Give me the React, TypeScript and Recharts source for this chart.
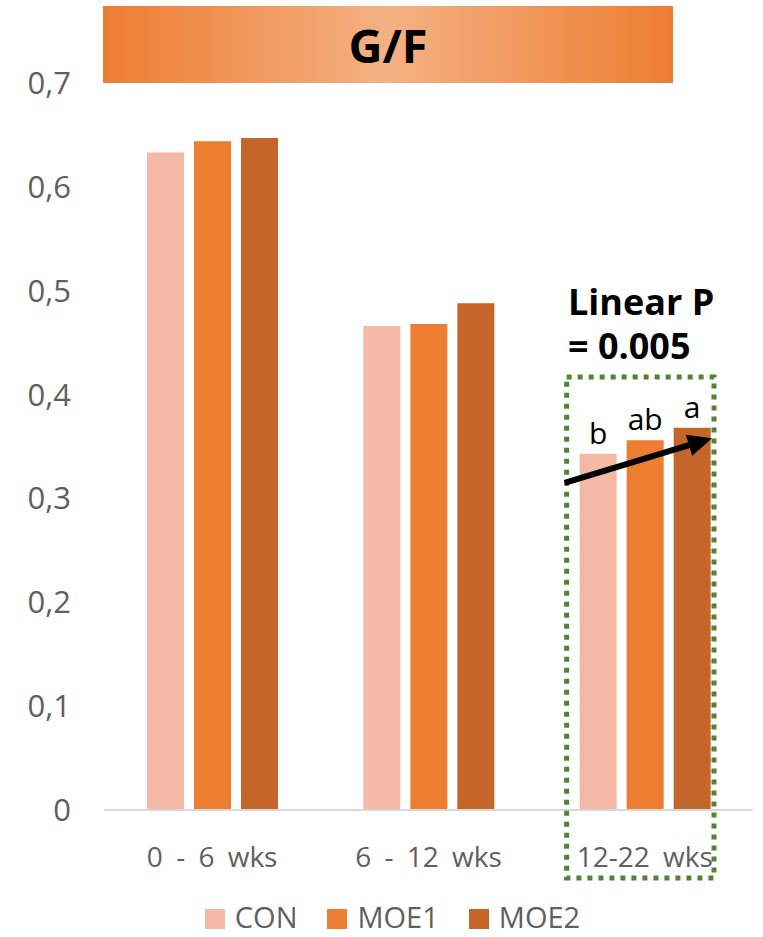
import React from 'react';
import { BarChart, Bar, XAxis, YAxis, LabelList } from 'recharts';

// Periods on the x axis
const periods = ['0 - 6 wks', '6 - 12 wks', '12-22 wks'];

// Gain-to-feed ratio per treatment
const conValues = [0.633, 0.466, 0.343];
const moe1Values = [0.644, 0.468, 0.356];
const moe2Values = [0.647, 0.488, 0.368];

// Significance letters (only the last period differs)
const conLetters = ['', '', 'b'];
const moe1Letters = ['', '', 'ab'];
const moe2Letters = ['', '', 'a'];

const yTicks = [0, 0.1, 0.2, 0.3, 0.4, 0.5, 0.6, 0.7];

const series = [
  { key: 'CON', label: 'CON', color: '#F4B9A4', letters: 'conSig' },
  { key: 'MOE1', label: 'MOE1', color: '#ED7D31', letters: 'moe1Sig' },
  { key: 'MOE2', label: 'MOE2', color: '#C4652A', letters: 'moe2Sig' },
];

const data = periods.map((p, i) => ({
  period: p,
  CON: conValues[i],
  MOE1: moe1Values[i],
  MOE2: moe2Values[i],
  conSig: conLetters[i],
  moe1Sig: moe1Letters[i],
  moe2Sig: moe2Letters[i],
}));

// Chart geometry
const W = 763;
const H = 937;
const PLOT_LEFT = 104;
const PLOT_RIGHT = 753;
const PLOT_TOP = 83;
const PLOT_BOTTOM = 810;
const Y_MAX = 0.7;
const X_AXIS_H = 60;

const FONT = '"Open Sans", "Noto Sans", sans-serif';
const GREY = '#5f5f5f';

const yPix = (v: number) => PLOT_BOTTOM - (v / Y_MAX) * (PLOT_BOTTOM - PLOT_TOP);

export default function App() {
  const band = (PLOT_RIGHT - PLOT_LEFT) / periods.length;
  const lastBandStart = PLOT_LEFT + band * 2;
  const boxX1 = lastBandStart + 30;
  const boxX2 = lastBandStart + band - 39;
  const boxTop = yPix(0.417);
  const boxBottom = 878;

  const arrowStart = { x: boxX1 - 2, y: yPix(0.315) };
  const arrowTip = { x: boxX2 - 2, y: yPix(0.358) };
  const ang = Math.atan2(arrowTip.y - arrowStart.y, arrowTip.x - arrowStart.x);
  const headLen = 24;
  const headHalf = 11;
  const baseX = arrowTip.x - headLen * Math.cos(ang);
  const baseY = arrowTip.y - headLen * Math.sin(ang);
  const px = -Math.sin(ang);
  const py = Math.cos(ang);
  const head = `${arrowTip.x},${arrowTip.y} ${baseX + px * headHalf},${baseY + py * headHalf} ${baseX - px * headHalf},${baseY - py * headHalf}`;

  return (
    <div style={{ position: 'absolute', left: 0, top: 0, width: W, height: H, background: '#fff', fontFamily: FONT, overflow: 'hidden' }}>
      <BarChart
        width={W}
        height={H}
        data={data}
        margin={{ top: PLOT_TOP, right: W - PLOT_RIGHT, left: 0, bottom: H - PLOT_BOTTOM - X_AXIS_H }}
        barSize={37}
        barGap={10}
      >
        <XAxis
          dataKey="period"
          height={X_AXIS_H}
          tickLine={false}
          tickSize={0}
          tickMargin={37}
          axisLine={{ stroke: '#D9D9D9', strokeWidth: 2 }}
          tick={{ fill: GREY, fontSize: 28, fontFamily: FONT, wordSpacing: 6 }}
        />
        <YAxis
          width={PLOT_LEFT}
          domain={[0, Y_MAX]}
          ticks={yTicks}
          interval={0}
          tickLine={false}
          axisLine={false}
          tickSize={0}
          tickMargin={33}
          tickFormatter={(v: number) => String(Number(v.toFixed(1))).replace('.', ',')}
          tick={{ fill: GREY, fontSize: 31, fontFamily: FONT }}
        />
        {series.map((s) => (
          <Bar key={s.key} dataKey={s.key} fill={s.color} isAnimationActive={false}>
            <LabelList
              dataKey={s.letters}
              position="top"
              offset={10}
              fill="#000"
              fontSize={30}
              fontFamily={FONT}
            />
          </Bar>
        ))}
      </BarChart>

      <svg width={W} height={H} style={{ position: 'absolute', left: 0, top: 0, pointerEvents: 'none' }}>
        <defs>
          <linearGradient id="banner" x1="0" x2="1" y1="0" y2="0">
            <stop offset="0" stopColor="#ED7D31" />
            <stop offset="0.5" stopColor="#F4B183" />
            <stop offset="1" stopColor="#ED7D31" />
          </linearGradient>
        </defs>
        <rect x={103} y={6} width={570} height={77} fill="url(#banner)" />
        <text x={388} y={63} textAnchor="middle" fontSize={47} fontWeight={700} fill="#000" fontFamily={FONT}>
          G/F
        </text>

        <text x={568} y={315} fontSize={36} fontWeight={700} fill="#000" fontFamily={FONT}>
          <tspan x={568} y={315}>Linear P</tspan>
          <tspan x={568} y={359}>= 0.005</tspan>
        </text>

        <rect
          x={boxX1}
          y={boxTop}
          width={boxX2 - boxX1}
          height={boxBottom - boxTop}
          fill="none"
          stroke="#548235"
          strokeWidth={5}
          strokeDasharray="5 6"
        />

        <line x1={arrowStart.x} y1={arrowStart.y} x2={baseX} y2={baseY} stroke="#000" strokeWidth={6} />
        <polygon points={head} fill="#000" />
      </svg>

      <div
        style={{
          position: 'absolute',
          left: 0,
          top: 902,
          width: W,
          height: 30,
          lineHeight: '30px',
          paddingLeft: 22,
          boxSizing: 'border-box',
          display: 'flex',
          justifyContent: 'center',
          alignItems: 'center',
          gap: 30,
          fontSize: 29,
          color: GREY,
          fontFamily: FONT,
        }}
      >
        {series.map((s) => (
          <div key={s.key} style={{ display: 'flex', alignItems: 'center', gap: 10 }}>
            <div style={{ width: 20, height: 20, background: s.color, marginTop: 3 }} />
            <span>{s.label}</span>
          </div>
        ))}
      </div>
    </div>
  );
}
